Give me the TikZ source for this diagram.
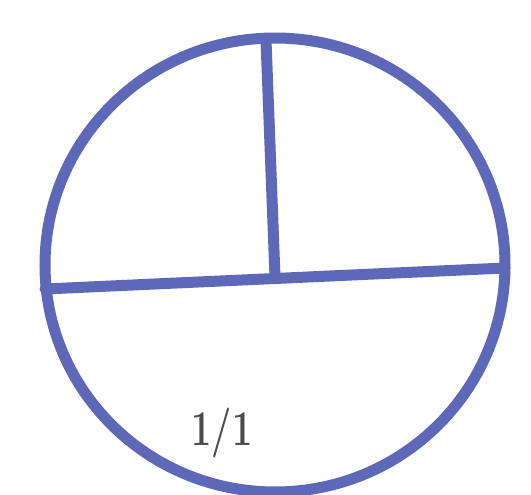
\documentclass[tikz,border=0pt]{standalone}
\definecolor{ink}{RGB}{94,104,184}
\definecolor{pencil}{RGB}{75,75,75}
\tikzset{stroke/.style={draw=ink,line width=11pt,line cap=round}}
\begin{document}
\begin{tikzpicture}[x=1pt,y=-1pt]
\useasboundingbox[fill=white] (0,0) rectangle (531,495);
\coordinate (c) at (275,265);
\draw[stroke] (c) ellipse [x radius=230, y radius=227];
\coordinate (l) at (45,289);
\coordinate (r) at (505,268);
\coordinate (t) at (266,40);
\coordinate (m) at (275,277);
\draw[stroke] (l) -- (r);
\draw[stroke] (t) -- (m);
\node[text=pencil,font=\fontsize{50}{54}\selectfont\bfseries,xscale=0.72] (lbl) at (222,433) {1/1};
\end{tikzpicture}
\end{document}
